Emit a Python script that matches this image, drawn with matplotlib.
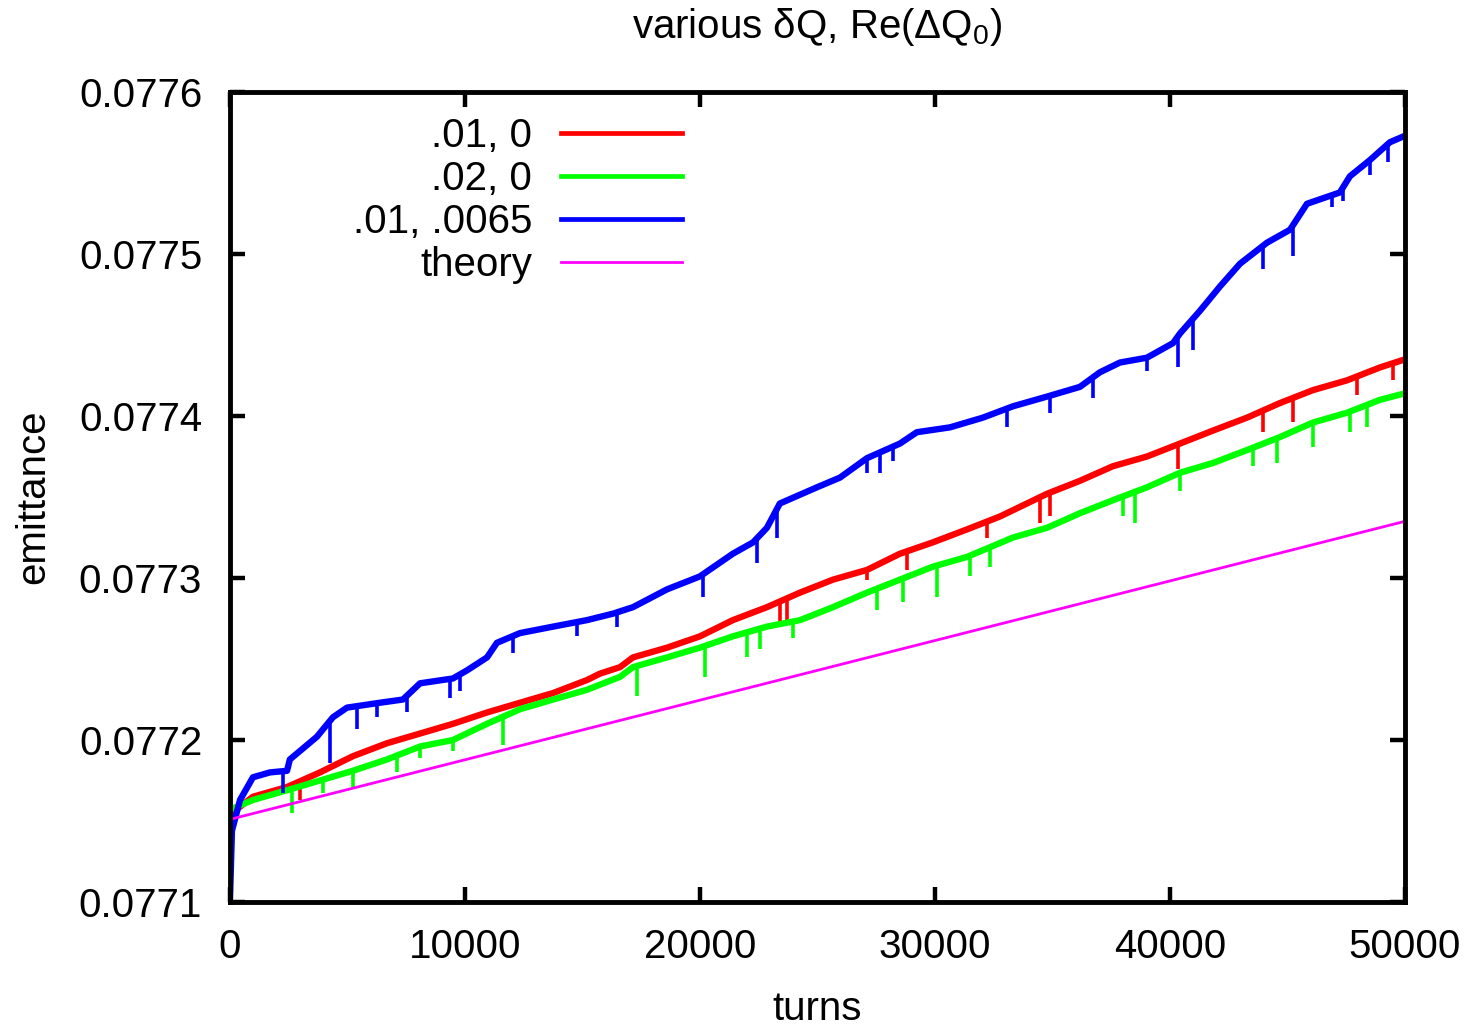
import numpy as np
import matplotlib
matplotlib.use('Agg')
import matplotlib.pyplot as plt
from matplotlib.ticker import FormatStrFormatter

plt.rcParams['font.family'] = ['Liberation Sans', 'DejaVu Sans']
plt.rcParams['mathtext.fontset'] = 'custom'
plt.rcParams['mathtext.rm'] = 'Liberation Sans'
plt.rcParams['mathtext.default'] = 'regular'

# dQ = .01, Re(dQ0) = 0
red_turns = [0, 980, 2430, 3830, 5230, 6680, 8090, 9490, 10940, 12340, 13750, 15190, 15750, 16600,
             17150, 18600, 20000, 21400, 22850, 24260, 25660, 27110, 28510, 29910, 31360, 32770,
             34770, 36170, 37570, 39020, 40430, 41830, 43280, 44680, 46090, 47530, 48940, 50000]
red_emit = [0.077154, 0.077165, 0.077171, 0.077180, 0.077190, 0.077198, 0.077204, 0.077210, 0.077217,
            0.077223, 0.077229, 0.077237, 0.077241, 0.077245, 0.077251, 0.077257, 0.077264, 0.077274,
            0.077282, 0.077291, 0.077299, 0.077305, 0.077315, 0.077322, 0.077330, 0.077338, 0.077352,
            0.077360, 0.077369, 0.077375, 0.077383, 0.077391, 0.077399, 0.077408, 0.077416, 0.077422,
            0.077430, 0.077435]
red_spike_turns = [2980, 23400, 23700, 27110, 28810, 32210, 34470, 34890, 40340, 43960, 45230, 47960, 49490]
red_spike_emit = [0.077163, 0.077272, 0.077272, 0.077299, 0.077305, 0.077325, 0.077334, 0.077338,
                  0.077367, 0.077390, 0.077396, 0.077413, 0.077422]

# dQ = .02, Re(dQ0) = 0
green_turns = [0, 980, 2430, 3830, 5230, 6680, 8090, 9490, 10940, 12340, 13750, 15190, 16600, 17150,
               18600, 20000, 21400, 22850, 24260, 25660, 27110, 28510, 29910, 31360, 32340, 33320,
               34770, 36170, 37570, 39020, 40430, 41830, 43280, 44680, 46090, 47530, 48940, 50000]
green_emit = [0.077157, 0.077163, 0.077169, 0.077175, 0.077181, 0.077188, 0.077196, 0.077200, 0.077210,
              0.077219, 0.077225, 0.077231, 0.077239, 0.077245, 0.077251, 0.077257, 0.077264, 0.077270,
              0.077274, 0.077282, 0.077291, 0.077299, 0.077307, 0.077313, 0.077319, 0.077325, 0.077331,
              0.077340, 0.077348, 0.077356, 0.077365, 0.077371, 0.077379, 0.077387, 0.077396, 0.077402,
              0.077410, 0.077414]
green_spike_turns = [2640, 3960, 5230, 7110, 8090, 9490, 11620, 17320, 20210, 22000, 22550, 23960,
                     27530, 28640, 30090, 31490, 32340, 38000, 38510, 40430, 43530, 44550, 46090,
                     47660, 48380]
green_spike_emit = [0.077155, 0.077167, 0.077171, 0.077180, 0.077189, 0.077193, 0.077197, 0.077227,
                    0.077239, 0.077251, 0.077256, 0.077263, 0.077280, 0.077285, 0.077288, 0.077301,
                    0.077307, 0.077338, 0.077334, 0.077354, 0.077369, 0.077371, 0.077381, 0.077390,
                    0.077393]

# dQ = .01, Re(dQ0) = .0065
blue_turns = [0, 85, 430, 980, 1700, 2430, 2550, 3700, 4380, 4980, 6380, 7360, 8090, 9490, 10090,
              10940, 11360, 12340, 13750, 15190, 16300, 17150, 18600, 20000, 21400, 22260, 22850,
              23400, 24980, 25960, 27110, 28510, 29230, 30640, 32040, 33320, 34770, 36170, 37020,
              37870, 39020, 40130, 40430, 41280, 42130, 42980, 44130, 45110, 45830, 47230, 47660,
              48510, 49360, 50000]
blue_emit = [0.077101, 0.077144, 0.077163, 0.077177, 0.077180, 0.077181, 0.077188, 0.077202, 0.077214,
             0.077220, 0.077223, 0.077225, 0.077235, 0.077238, 0.077243, 0.077251, 0.077260, 0.077266,
             0.077270, 0.077274, 0.077278, 0.077282, 0.077293, 0.077301, 0.077315, 0.077322, 0.077331,
             0.077346, 0.077356, 0.077362, 0.077374, 0.077383, 0.077390, 0.077393, 0.077399, 0.077406,
             0.077412, 0.077418, 0.077427, 0.077433, 0.077436, 0.077445, 0.077451, 0.077465, 0.077480,
             0.077494, 0.077507, 0.077515, 0.077531, 0.077538, 0.077548, 0.077558, 0.077569, 0.077573]
blue_spike_turns = [2260, 4260, 5400, 6260, 7530, 9360, 9790, 12040, 14770, 16470, 20130, 22430,
                    23280, 27110, 27660, 28210, 33060, 34890, 36720, 39020, 40340, 40980, 43960,
                    45230, 46890, 47360, 48510, 49280]
blue_spike_emit = [0.077167, 0.077186, 0.077207, 0.077214, 0.077217, 0.077226, 0.077230, 0.077254,
                   0.077264, 0.077270, 0.077288, 0.077309, 0.077325, 0.077365, 0.077365, 0.077372,
                   0.077393, 0.077402, 0.077411, 0.077428, 0.077430, 0.077441, 0.077491, 0.077499,
                   0.077529, 0.077533, 0.077549, 0.077557]

theory_turns = [0, 50000]
theory_emit = [0.077151, 0.077335]

labels = ['.01, 0', '.02, 0', '.01, .0065', 'theory']
colors = ['#ff0000', '#00ff00', '#0000ff', '#ff00ff']

series = [
    (red_turns, red_emit, red_spike_turns, red_spike_emit),
    (green_turns, green_emit, green_spike_turns, green_spike_emit),
    (blue_turns, blue_emit, blue_spike_turns, blue_spike_emit),
]

fig = plt.figure(figsize=(14.73, 10.27), dpi=100)
ax = fig.add_axes([0.1561, 0.1217, 0.7977, 0.7887])

for (t, e, st, se), lab, col in zip(series, labels, colors):
    ax.plot(t, e, color=col, lw=4.6, label=lab, solid_joinstyle='round')
    # downward noise spikes hanging off the curve
    top = np.interp(st, t, e)
    ax.vlines(st, se, top, color=col, lw=2.6)

ax.plot(theory_turns, theory_emit, color=colors[3], lw=2, label=labels[3])

ax.set_xlim(0, 50000)
ax.set_ylim(0.0771, 0.0776)
ax.set_xticks(np.arange(0, 50001, 10000))
ax.set_yticks(np.arange(0.0771, 0.07761, 0.0001))
ax.yaxis.set_major_formatter(FormatStrFormatter('%.4f'))
ax.tick_params(direction='in', length=11, width=3.2, top=True, right=True, labelsize=29)
ax.tick_params(axis='x', pad=19)
ax.tick_params(axis='y', pad=20)
for s in ax.spines.values():
    s.set_linewidth(3.5)

ax.set_title('various δQ, Re(ΔQ$_0$)', fontsize=29, pad=39)
ax.set_xlabel('turns', fontsize=29, labelpad=17)
ax.set_ylabel('emittance', fontsize=29, labelpad=19)

leg = ax.legend(loc='upper right', bbox_to_anchor=(0.3845, 0.969), frameon=False, markerfirst=False,
                fontsize=29, handlelength=3.0, handletextpad=0.72, labelspacing=0.12,
                borderpad=0, borderaxespad=0)
for line, w in zip(leg.get_lines(), [3.4, 3.4, 3.4, 2]):
    line.set_linewidth(w)

fig.savefig('out.png', dpi=100)
